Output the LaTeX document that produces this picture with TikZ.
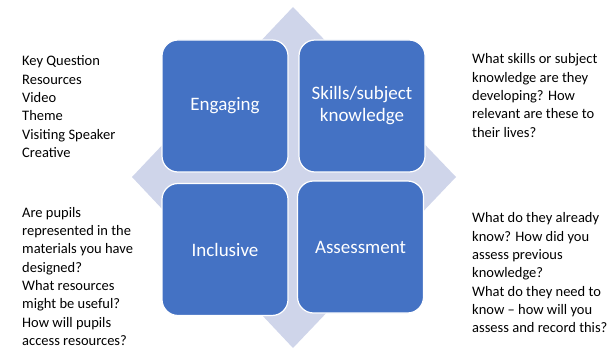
\documentclass[tikz,border=0pt]{standalone}
\usepackage{fontspec}
\setmainfont{Carlito}
\definecolor{boxblue}{HTML}{4472C4}
\definecolor{backdiamond}{HTML}{CFD5EA}
\tikzset{
  topic/.style={draw=white, line width=1.2pt, fill=boxblue, rounded corners=16pt,
    minimum width=126pt, minimum height=132pt, text=white, align=center,
    font=\fontsize{19}{22}\selectfont},
  notes/.style={anchor=north west, inner sep=0pt, align=left,
    font=\fontsize{14.5}{18.3}\selectfont}
}
\begin{document}
\begin{tikzpicture}[x=1pt, y=-1pt]
        \useasboundingbox (0,0) rectangle (607,350);

        % diamond behind the boxes
        \fill[backdiamond] (293,7) coordinate (dT) -- (456,177) coordinate (dR)
        -- (293,348) coordinate (dB) -- (132,177) coordinate (dL) -- cycle;

        % four topics
        \node[topic] (engaging) at (225,106) {Engaging};
        \node[topic] (skills) at (362,106) {Skills/subject\\knowledge};
        \node[topic] (inclusive) at (225,249.5) {Inclusive};
        \node[topic] (assessment) at (360.5,247) {Assessment};

        % notes round the diagram
        \node[notes] (engnotes) at (22,55.7) {Key Question\\Resources\\Video\\Theme\\Visiting Speaker\\Creative};
        \node[notes] (incnotes) at (22,207) {Are pupils\\represented in the\\materials you have\\designed?\\What resources\\might be useful?\\How will pupils\\access resources?};
        \node[notes] (sklnotes) at (472,53.7) {What skills or subject\\knowledge are they\\developing? How\\relevant are these to\\their lives?};
        \node[notes] (assnotes) at (472,212.7) {What do they already\\know? How did you\\assess previous\\knowledge?\\What do they need to\\know – how will you\\assess and record this?};

    \end{tikzpicture}
\end{document}
